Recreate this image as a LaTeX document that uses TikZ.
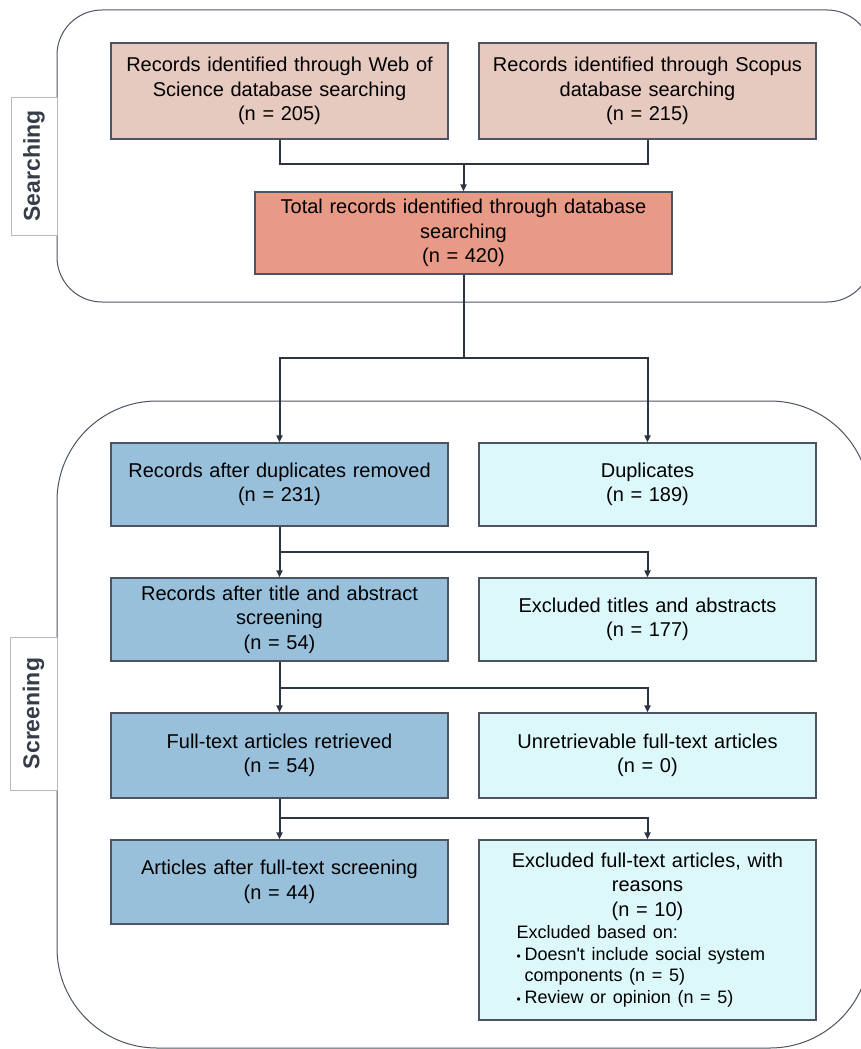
\documentclass[tikz,border=0pt]{standalone}
\usepackage{fontspec}
\setmainfont{Liberation Sans}
\newfontfamily\plainsans{Liberation Sans}
\usetikzlibrary{arrows.meta}

\definecolor{searchfill}{HTML}{E6C9BF}
\definecolor{totalfill}{HTML}{E99A86}
\definecolor{keepfill}{HTML}{98C0DA}
\definecolor{dropfill}{HTML}{DDF8FB}
\definecolor{lineclr}{HTML}{2E3542}
\definecolor{edgeclr}{HTML}{4C5361}
\definecolor{phasetxt}{HTML}{363C48}

\begin{document}
\begin{tikzpicture}[x=1pt,y=-1pt,>={Triangle[length=7pt,width=6pt]},
    box/.style={draw=edgeclr,line width=1.2pt,minimum width=337pt,
      minimum height=83pt,text width=325pt,align=center,inner sep=0pt,
      font=\fontsize{20}{24.5}\selectfont},
    link/.style={draw=lineclr,line width=2pt},
    frame/.style={draw=edgeclr,line width=1pt},
    phase/.style={draw=gray!55,line width=1pt,fill=white,rotate=90,
      inner sep=0pt,text=phasetxt,font=\bfseries\fontsize{23}{26}\selectfont}]

  \useasboundingbox (0,0) rectangle (860,1049);

  % phase frames
  \draw[frame,rounded corners=45pt]  (57,10)  rectangle (872,302);
  \draw[frame,rounded corners=100pt] (57,401) rectangle (870,1048);

  \node[phase,minimum width=138pt,minimum height=46pt] (search) at (34,166)   {Searching};
  \node[phase,minimum width=153pt,minimum height=47pt] (screen) at (33.5,713.5) {Screening};

  % searching
  \node[box,fill=searchfill,minimum height=96pt] (wos)    at (279.5,91)
    {Records identified through Web of\\Science database searching\\(n = 205)};
  \node[box,fill=searchfill,minimum height=96pt] (scopus) at (647.5,91)
    {Records identified through Scopus\\database searching\\(n = 215)};
  \node[box,fill=totalfill,minimum width=417pt,text width=405pt,minimum height=82pt] (total) at (463.5,233)
    {Total records identified through database\\searching\\(n = 420)};

  % screening
  \node[box,fill=keepfill] (dedup)  at (279.5,484.5) {Records after duplicates removed\\(n = 231)};
  \node[box,fill=dropfill] (dup)    at (647.5,484.5) {Duplicates\\(n = 189)};
  \node[box,fill=keepfill] (tiab)   at (279.5,619.5) {Records after title and abstract\\screening\\(n = 54)};
  \node[box,fill=dropfill] (extiab) at (647.5,619.5) {Excluded titles and abstracts\\(n = 177)};
  \node[box,fill=keepfill,minimum height=85pt] (full)  at (279.5,755.5) {Full-text articles retrieved\\(n = 54)};
  \node[box,fill=dropfill,minimum height=85pt] (unret) at (647.5,755.5) {Unretrievable full-text articles\\(n = 0)};
  \node[box,fill=keepfill,minimum height=84pt] (final) at (279.5,882) {Articles after full-text screening\\(n = 44)};
  \node[box,fill=dropfill,minimum height=180pt] (exfull) at (647.5,930)
    {Excluded full-text articles, with\\reasons\\(n = 10)\\[-2pt]
     \parbox[t]{262pt}{\raggedright\plainsans\fontsize{18}{21.7}\selectfont
       Excluded based on:\\
       \makebox[8pt][l]{\fontsize{12}{12}\selectfont\textbullet}Doesn't include social system\\
       \hspace*{8pt}components (n = 5)\\
       \makebox[8pt][l]{\fontsize{12}{12}\selectfont\textbullet}Review or opinion (n = 5)}};

  % joints
  \coordinate (j0) at (463.5,164);
  \coordinate (j1) at (463.5,358);
  \coordinate (b1) at (279.5,552);
  \coordinate (b2) at (279.5,688);
  \coordinate (b3) at (279.5,818);

  \draw[link] (wos.south) |- (j0);
  \draw[link] (scopus.south) |- (j0);
  \draw[link,->] (j0) -- (total.north);
  \draw[link] (total.south) -- (j1);
  \draw[link,->] (j1) -| (dedup.north);
  \draw[link,->] (j1) -| (dup.north);

  \draw[link,->] (dedup.south) -- (tiab.north);
  \draw[link,->] (b1) -| (extiab.north);
  \draw[link,->] (tiab.south) -- (full.north);
  \draw[link,->] (b2) -| (unret.north);
  \draw[link,->] (full.south) -- (final.north);
  \draw[link,->] (b3) -| (exfull.north);
\end{tikzpicture}
\end{document}
